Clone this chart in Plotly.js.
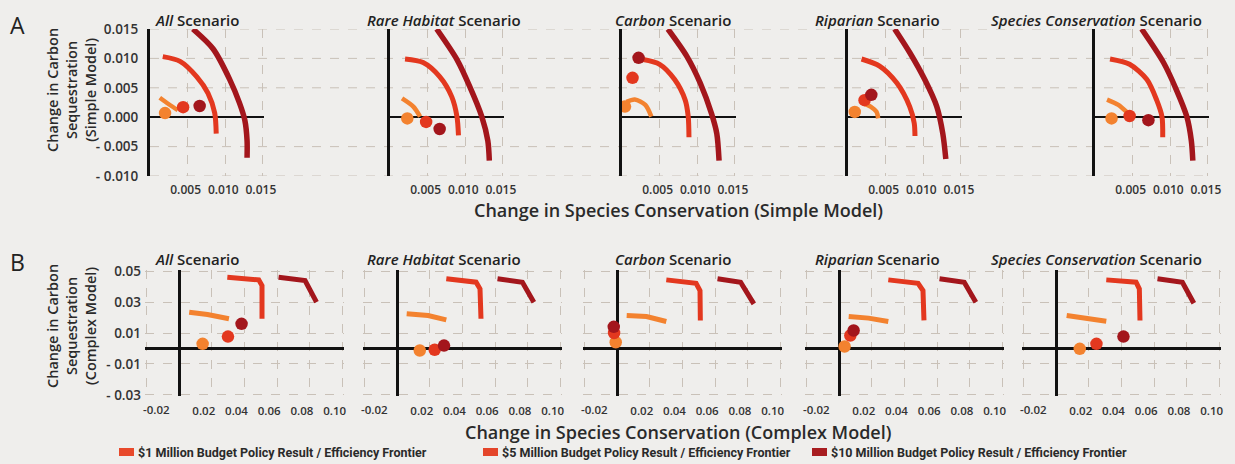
<!DOCTYPE html>
<html>
<head>
<meta charset="utf-8">
<script src="https://cdn.plot.ly/plotly-3.0.1.min.js"></script>
<style>html,body{margin:0;padding:0;background:#efeeec;}#chart{width:1235px;height:464px;}</style>
</head>
<body>
<div id="chart"></div>
<script>
// ---------- DATA ----------
const scenarioNames = ["All", "Rare Habitat", "Carbon", "Riparian", "Species Conservation"];
const budgetLabels = ["$1 Million Budget Policy Result / Efficiency Frontier",
                      "$5 Million Budget Policy Result / Efficiency Frontier",
                      "$10 Million Budget Policy Result / Efficiency Frontier"];

// Row A (Simple Model): frontiers and policy results, per scenario
const A_all_f10_x = [0.0057,0.0084,0.0106,0.0119,0.0126,0.0129,0.0129];
const A_all_f10_y = [0.0150,0.0116,0.0064,0.0024,-0.0005,-0.0040,-0.0069];
const A_all_f5_x  = [0.0017,0.0040,0.0062,0.0077,0.0086,0.0088];
const A_all_f5_y  = [0.0103,0.0095,0.0069,0.0041,0.0007,-0.0028];
const A_all_f1_x  = [0.0013,0.0025,0.0037];
const A_all_f1_y  = [0.0033,0.0022,0.0012];
const A_all_pts_x = [0.0020,0.0044,0.0066];
const A_all_pts_y = [0.0007,0.0017,0.0019];

const A_rare_f10_x = [0.0062,0.0089,0.0106,0.0122,0.0130,0.0132];
const A_rare_f10_y = [0.0150,0.0098,0.0052,0.0001,-0.0040,-0.0074];
const A_rare_f5_x  = [0.0020,0.0044,0.0066,0.0082,0.0089,0.0091];
const A_rare_f5_y  = [0.0099,0.0093,0.0069,0.0035,0.0001,-0.0031];
const A_rare_f1_x  = [0.0016,0.0031,0.0040];
const A_rare_f1_y  = [0.0032,0.0018,0.0001];
const A_rare_pts_x = [0.0023,0.0048,0.0066];
const A_rare_pts_y = [-0.0002,-0.0008,-0.0020];

const A_carb_f10_x = [0.0061,0.0086,0.0104,0.0119,0.0126,0.0129];
const A_carb_f10_y = [0.0150,0.0104,0.0058,0.0006,-0.0028,-0.0074];
const A_carb_f5_x  = [0.0028,0.0050,0.0070,0.0084,0.0088,0.0089];
const A_carb_f5_y  = [0.0098,0.0090,0.0064,0.0029,0.0001,-0.0034];
const A_carb_f1_x  = [0.0006,0.0017,0.0031,0.0039];
const A_carb_f1_y  = [0.0026,0.0030,0.0021,0.0001];
const A_carb_pts_x = [0.0004,0.0014,0.0022];
const A_carb_pts_y = [0.0018,0.0067,0.0101];

const A_ripa_f10_x = [0.0062,0.0082,0.0102,0.0118,0.0126,0.0130];
const A_ripa_f10_y = [0.0150,0.0110,0.0064,0.0018,-0.0028,-0.0071];
const A_ripa_f5_x  = [0.0018,0.0042,0.0065,0.0082,0.0088,0.0089];
const A_ripa_f5_y  = [0.0099,0.0087,0.0058,0.0018,-0.0010,-0.0032];
const A_ripa_f1_x  = [0.0020,0.0030,0.0038,0.0040];
const A_ripa_f1_y  = [0.0024,0.0018,0.0009,-0.0002];
const A_ripa_pts_x = [0.0009,0.0022,0.0031];
const A_ripa_pts_y = [0.0009,0.0029,0.0038];

const A_spec_f10_x = [0.0062,0.0091,0.0108,0.0122,0.0128,0.0130];
const A_spec_f10_y = [0.0150,0.0093,0.0047,0.0001,-0.0040,-0.0074];
const A_spec_f5_x  = [0.0020,0.0046,0.0069,0.0082,0.0089,0.0090];
const A_spec_f5_y  = [0.0099,0.0090,0.0064,0.0029,0.0001,-0.0034];
const A_spec_f1_x  = [0.0016,0.0031,0.0042];
const A_spec_f1_y  = [0.0030,0.0021,0.0009];
const A_spec_pts_x = [0.0022,0.0046,0.0071];
const A_spec_pts_y = [-0.0002,0.0002,-0.0005];

// Row B (Complex Model)
const B_all_f10_x = [0.0608,0.0770,0.0840];
const B_all_f10_y = [0.0460,0.0439,0.0299];
const B_all_f5_x  = [0.0295,0.0487,0.0507,0.0507];
const B_all_f5_y  = [0.0460,0.0443,0.0406,0.0192];
const B_all_f1_x  = [0.0062,0.0174,0.0305];
const B_all_f1_y  = [0.0234,0.0219,0.0192];
const B_all_pts_x = [0.0144,0.0299,0.0382];
const B_all_pts_y = [0.0030,0.0077,0.0159];

const B_rare_f10_x = [0.0614,0.0766,0.0836];
const B_rare_f10_y = [0.0450,0.0428,0.0299];
const B_rare_f5_x  = [0.0301,0.0483,0.0507,0.0513];
const B_rare_f5_y  = [0.0450,0.0428,0.0385,0.0192];
const B_rare_f1_x  = [0.0059,0.0190,0.0301];
const B_rare_f1_y  = [0.0224,0.0213,0.0185];
const B_rare_pts_x = [0.0139,0.0230,0.0287];
const B_rare_pts_y = [-0.0013,-0.0008,0.0019];

const B_carb_f10_x = [0.0614,0.0755,0.0836];
const B_carb_f10_y = [0.0450,0.0428,0.0288];
const B_carb_f5_x  = [0.0301,0.0483,0.0507,0.0509];
const B_carb_f5_y  = [0.0443,0.0421,0.0374,0.0181];
const B_carb_f1_x  = [0.0059,0.0180,0.0301];
const B_carb_f1_y  = [0.0213,0.0206,0.0174];
const B_carb_pts_x = [-0.0008,-0.0018,-0.0020];
const B_carb_pts_y = [0.0040,0.0100,0.0140];

const B_ripa_f10_x = [0.0614,0.0765,0.0836];
const B_ripa_f10_y = [0.0450,0.0428,0.0299];
const B_ripa_f5_x  = [0.0301,0.0483,0.0513,0.0519];
const B_ripa_f5_y  = [0.0443,0.0421,0.0374,0.0181];
const B_ripa_f1_x  = [0.0059,0.0180,0.0301];
const B_ripa_f1_y  = [0.0206,0.0196,0.0174];
const B_ripa_pts_x = [0.0034,0.0069,0.0089];
const B_ripa_pts_y = [0.0013,0.0084,0.0116];

const B_spec_f10_x = [0.0620,0.0772,0.0842];
const B_spec_f10_y = [0.0450,0.0428,0.0292];
const B_spec_f5_x  = [0.0307,0.0489,0.0509,0.0513];
const B_spec_f5_y  = [0.0443,0.0428,0.0385,0.0181];
const B_spec_f1_x  = [0.0065,0.0186,0.0307];
const B_spec_f1_y  = [0.0213,0.0198,0.0176];
const B_spec_pts_x = [0.0145,0.0247,0.0412];
const B_spec_pts_y = [-0.0002,0.0030,0.0077];

// tick labels
const A_xtickvals = [0.005, 0.010, 0.015];
const A_xticktext = ["0.005", "0.010", "0.015"];
const A_ytickvals = [-0.010, -0.005, 0, 0.005, 0.010, 0.015];
const A_yticktext = ["-\u00a00.010", "-\u00a00.005", "0.000", "0.005", "0.010", "0.015"];
const B_xtickvals = [-0.02, 0, 0.02, 0.04, 0.06, 0.08, 0.10];
const B_xticktext = ["", "", "0.02", "0.04", "0.06", "0.08", "0.10"];
const B_xmin_label = "-0.02";
const B_ytickvals = [-0.03, -0.01, 0.01, 0.03, 0.05];
const B_yticktext = ["-\u00a00.03", "-\u00a00.01", "0.01", "0.03", "0.05"];

// ---------- STYLE / LAYOUT ----------
const W = 1235, H = 464;
const FONT = "Open Sans, Noto Sans, sans-serif";
const COLORS = ["#f3822f", "#e3381f", "#a3161c"];
const SWATCH = ["#e8492b", "#e4452a", "#a81d20"];
const GRID = "#c9c1b8";
const BG = "#efeeec";
const px = p => p / W;
const py = p => 1 - p / H;

const rowA = [
  [A_all_f1_x, A_all_f1_y, A_all_f5_x, A_all_f5_y, A_all_f10_x, A_all_f10_y, A_all_pts_x, A_all_pts_y],
  [A_rare_f1_x, A_rare_f1_y, A_rare_f5_x, A_rare_f5_y, A_rare_f10_x, A_rare_f10_y, A_rare_pts_x, A_rare_pts_y],
  [A_carb_f1_x, A_carb_f1_y, A_carb_f5_x, A_carb_f5_y, A_carb_f10_x, A_carb_f10_y, A_carb_pts_x, A_carb_pts_y],
  [A_ripa_f1_x, A_ripa_f1_y, A_ripa_f5_x, A_ripa_f5_y, A_ripa_f10_x, A_ripa_f10_y, A_ripa_pts_x, A_ripa_pts_y],
  [A_spec_f1_x, A_spec_f1_y, A_spec_f5_x, A_spec_f5_y, A_spec_f10_x, A_spec_f10_y, A_spec_pts_x, A_spec_pts_y]
];
const rowB = [
  [B_all_f1_x, B_all_f1_y, B_all_f5_x, B_all_f5_y, B_all_f10_x, B_all_f10_y, B_all_pts_x, B_all_pts_y],
  [B_rare_f1_x, B_rare_f1_y, B_rare_f5_x, B_rare_f5_y, B_rare_f10_x, B_rare_f10_y, B_rare_pts_x, B_rare_pts_y],
  [B_carb_f1_x, B_carb_f1_y, B_carb_f5_x, B_carb_f5_y, B_carb_f10_x, B_carb_f10_y, B_carb_pts_x, B_carb_pts_y],
  [B_ripa_f1_x, B_ripa_f1_y, B_ripa_f5_x, B_ripa_f5_y, B_ripa_f10_x, B_ripa_f10_y, B_ripa_pts_x, B_ripa_pts_y],
  [B_spec_f1_x, B_spec_f1_y, B_spec_f5_x, B_spec_f5_y, B_spec_f10_x, B_spec_f10_y, B_spec_pts_x, B_spec_pts_y]
];

const A_left = [150, 390, 622, 848, 1095], A_w = 114;
const B_left = [145, 363, 583, 805, 1022], B_w = 199;
const titleX = [197, 444, 673, 877, 1096];

const traces = [];
const layout = {
  width: W, height: H,
  margin: {l: 0, r: 0, t: 0, b: 0},
  paper_bgcolor: BG, plot_bgcolor: BG,
  showlegend: false,
  font: {family: FONT, color: "#2b2b2b"},
  shapes: [], annotations: []
};
const ann = layout.annotations;

function addPanel(idx, data, isA) {
  const xa = idx === 1 ? "x" : "x" + idx, ya = idx === 1 ? "y" : "y" + idx;
  const lw = isA ? [4.5, 5, 5.5] : [5, 5, 5];
  for (let k = 0; k < 3; k++) {
    traces.push({
      type: "scatter", mode: "lines", x: data[2 * k], y: data[2 * k + 1],
      xaxis: xa, yaxis: ya, hoverinfo: "skip",
      line: {color: COLORS[k], width: lw[k], shape: isA ? "spline" : "linear", smoothing: 0.8}
    });
  }
  traces.push({
    type: "scatter", mode: "markers", x: data[6], y: data[7],
    xaxis: xa, yaxis: ya, hoverinfo: "skip",
    marker: {color: COLORS, size: 12.5, line: {width: 0}}
  });
}

const xTickFontA = {family: FONT, size: 12, color: "#333", weight: 600};
const xTickFontB = {family: FONT, size: 11.5, color: "#333", weight: 600};
const yTickFont = {family: FONT, size: 13.5, color: "#333", weight: 600};

for (let i = 0; i < 5; i++) {
  const idx = i + 1;
  addPanel(idx, rowA[i], true);
  const xk = idx === 1 ? "xaxis" : "xaxis" + idx, yk = idx === 1 ? "yaxis" : "yaxis" + idx;
  layout[xk] = {
    domain: [px(A_left[i]), px(A_left[i] + A_w)], range: [0, 0.01515],
    anchor: idx === 1 ? "y" : "y" + idx,
    tickmode: "array", tickvals: A_xtickvals, ticktext: A_xticktext,
    ticks: "", ticklabelstandoff: 5, ticklabelshift: -2, tickfont: xTickFontA,
    showgrid: true, gridcolor: GRID, griddash: "dash", gridwidth: 1,
    zeroline: false, showline: false, fixedrange: true
  };
  layout[yk] = {
    domain: [py(176), py(29)], range: [-0.010, 0.015],
    anchor: idx === 1 ? "x" : "x" + idx,
    tickmode: "array", tickvals: A_ytickvals, ticktext: A_yticktext,
    showticklabels: idx === 1, ticks: "", ticklabelstandoff: 6, tickfont: yTickFont,
    showgrid: false, zeroline: true, zerolinecolor: "#111", zerolinewidth: 2.5,
    showline: true, linecolor: "#111", linewidth: 3, fixedrange: true
  };
}
for (let i = 0; i < 5; i++) {
  const idx = i + 6;
  addPanel(idx, rowB[i], false);
  layout["xaxis" + idx] = {
    domain: [px(B_left[i]), px(B_left[i] + B_w)], range: [-0.0208, 0.1008],
    anchor: "y" + idx,
    tickmode: "array", tickvals: B_xtickvals, ticktext: B_xticktext,
    ticks: "", ticklabelstandoff: 6, ticklabelshift: -8, tickfont: xTickFontB,
    showgrid: true, gridcolor: GRID, griddash: "dash", gridwidth: 1,
    zeroline: true, zerolinecolor: "#111", zerolinewidth: 3,
    showline: false, fixedrange: true
  };
  layout["yaxis" + idx] = {
    domain: [py(396.2), py(269.8)], range: [-0.0308, 0.0508],
    anchor: "x" + idx,
    tickmode: "array", tickvals: B_ytickvals, ticktext: B_yticktext,
    showticklabels: idx === 6, ticks: "", ticklabelstandoff: 3, tickfont: yTickFont,
    showgrid: true, gridcolor: GRID, griddash: "dash", gridwidth: 1,
    zeroline: true, zerolinecolor: "#111", zerolinewidth: 2.5,
    showline: false, fixedrange: true
  };
  // leftmost tick label of each lower panel (sits right of its gridline, as in the source)
  ann.push({xref: "x" + idx, yref: "paper", x: B_xtickvals[0], y: py(409), xshift: 10,
    xanchor: "center", yanchor: "middle", text: B_xmin_label, showarrow: false, font: xTickFontB});
}

// Row A horizontal dashed grid spanning the whole band
[-0.010, -0.005, 0.005, 0.010, 0.015].forEach(v => {
  layout.shapes.push({type: "line", xref: "paper", yref: "y", x0: px(150), x1: px(1209), y0: v, y1: v,
    line: {color: GRID, width: 1, dash: "dash"}, layer: "below"});
});

// Panel titles
for (let i = 0; i < 5; i++) {
  [20, 259].forEach(yy => ann.push({
    xref: "paper", yref: "paper", x: px(titleX[i]), y: py(yy), xanchor: "center", yanchor: "middle",
    text: "<i>" + scenarioNames[i] + "</i> Scenario", showarrow: false,
    font: {family: FONT, size: 15, color: "#222", weight: 600}
  }));
}
// Row labels
ann.push({xref: "paper", yref: "paper", x: px(17), y: py(25), text: "A", showarrow: false,
  xanchor: "center", yanchor: "middle", font: {family: FONT, size: 23, color: "#222"}});
ann.push({xref: "paper", yref: "paper", x: px(17), y: py(262), text: "B", showarrow: false,
  xanchor: "center", yanchor: "middle", font: {family: FONT, size: 23, color: "#222"}});
// Axis titles
ann.push({xref: "paper", yref: "paper", x: px(678), y: py(210), xanchor: "center", yanchor: "middle",
  text: "Change in Species Conservation (Simple Model)", showarrow: false,
  font: {family: FONT, size: 18, color: "#2a2a2a", weight: 600}});
ann.push({xref: "paper", yref: "paper", x: px(678), y: py(432), xanchor: "center", yanchor: "middle",
  text: "Change in Species Conservation (Complex Model)", showarrow: false,
  font: {family: FONT, size: 18, color: "#2a2a2a", weight: 600}});
ann.push({xref: "paper", yref: "paper", x: px(71), y: py(90), xanchor: "center", yanchor: "middle",
  text: "Change in Carbon<br>Sequestration<br>(Simple Model)", textangle: -90, showarrow: false,
  font: {family: FONT, size: 14.5, color: "#2a2a2a", weight: 600}});
ann.push({xref: "paper", yref: "paper", x: px(71), y: py(326), xanchor: "center", yanchor: "middle",
  text: "Change in Carbon<br>Sequestration<br>(Complex Model)", textangle: -90, showarrow: false,
  font: {family: FONT, size: 14.5, color: "#2a2a2a", weight: 600}});

// Legend (swatches + labels)
const legLeft = [119, 483, 812];
for (let k = 0; k < 3; k++) {
  layout.shapes.push({type: "rect", xref: "paper", yref: "paper",
    x0: px(legLeft[k]), x1: px(legLeft[k] + 15), y0: py(456), y1: py(448),
    line: {width: 0}, fillcolor: SWATCH[k]});
  ann.push({xref: "paper", yref: "paper", x: px(legLeft[k] + 17), y: py(452), xanchor: "left", yanchor: "middle",
    text: budgetLabels[k], showarrow: false,
    font: {family: "Roboto, Liberation Sans, sans-serif", size: 12.5, color: "#2a2a2a", weight: 700}});
}

Plotly.newPlot("chart", traces, layout, {staticPlot: true, displayModeBar: false});
</script>
</body>
</html>
